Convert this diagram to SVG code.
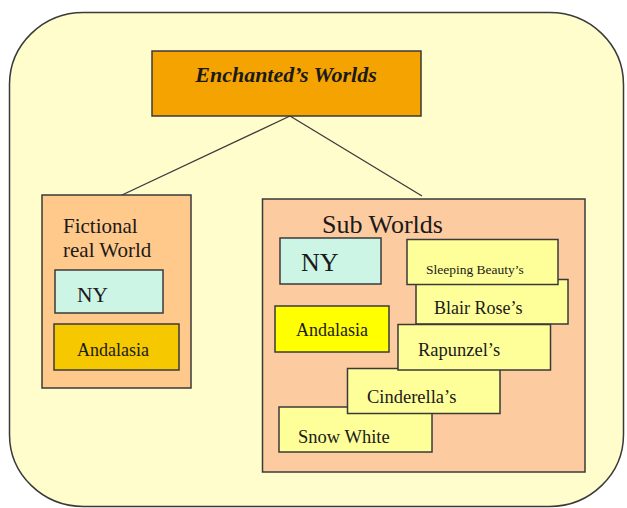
<svg xmlns="http://www.w3.org/2000/svg" width="627" height="508" viewBox="0 0 627 508">
<style>
.b{stroke:#3a3a3a;stroke-width:1.5}
text{font-family:"Liberation Serif","Times New Roman",serif;fill:#1a1a1a}
.w{fill:#FFFF99}
</style>
<rect x="0" y="0" width="627" height="508" fill="#ffffff"/>
<g id="frame"><rect x="9.5" y="12.5" width="614" height="494" rx="74" ry="72" fill="#FFFDCC" stroke="#3a3a3a" stroke-width="1.5"/></g>
<g id="connectors" stroke="#3a3a3a" stroke-width="1.3" fill="none">
<line x1="290" y1="116" x2="122" y2="195"/>
<line x1="290" y1="116" x2="422" y2="196"/>
</g>
<g id="title"><rect class="b" x="152" y="51" width="269" height="65" fill="#F4A300"/>
<text x="286" y="82" font-family="Liberation Serif, serif" font-size="22" font-weight="bold" font-style="italic" text-anchor="middle">Enchanted’s Worlds</text></g>
<g id="fictional"><rect class="b" x="42" y="195" width="149" height="193" fill="#FFC98C"/>
<text x="63" y="233" font-family="Liberation Serif, serif" font-size="21">Fictional</text><text x="63" y="257" font-family="Liberation Serif, serif" font-size="21">real World</text></g>
<g id="ny-left"><rect class="b" x="55" y="270" width="108" height="43" fill="#CCF5E6"/><text x="77" y="302" font-family="Liberation Serif, serif" font-size="21.5">NY</text></g>
<g id="andalasia-left"><rect class="b" x="54" y="324" width="125" height="46" fill="#F5C800"/><text x="77" y="356" font-family="Liberation Serif, serif" font-size="18">Andalasia</text></g>
<g id="subworlds"><rect class="b" x="262.5" y="199" width="322.5" height="273" fill="#FDCBA0"/>
<text x="322" y="233" font-family="Liberation Serif, serif" font-size="26">Sub Worlds</text></g>
<g id="ny-right"><rect class="b" x="280" y="238" width="101" height="46" fill="#CCF5E6"/><text x="301" y="271" font-family="Liberation Serif, serif" font-size="26">NY</text></g>
<g id="andalasia-right"><rect class="b" x="275" y="306" width="114" height="46" fill="#FFFF00"/><text x="296" y="336" font-family="Liberation Serif, serif" font-size="18">Andalasia</text></g>
<g id="blair"><rect class="b w" x="416" y="279.5" width="152" height="44.5"/><text x="434" y="314" font-family="Liberation Serif, serif" font-size="18">Blair Rose’s</text></g>
<g id="sleeping"><rect class="b w" x="407" y="239.5" width="151" height="45"/><text x="426" y="274" font-family="Liberation Serif, serif" font-size="13.5">Sleeping Beauty’s</text></g>
<g id="snow"><rect class="b w" x="279" y="407" width="153" height="45"/><text x="298" y="443" font-family="Liberation Serif, serif" font-size="18.5">Snow White</text></g>
<g id="cinderella"><rect class="b w" x="347.5" y="368.5" width="152.5" height="45"/><text x="367" y="403" font-family="Liberation Serif, serif" font-size="18.5">Cinderella’s</text></g>
<g id="rapunzel"><rect class="b w" x="398" y="324.5" width="152.5" height="45.5"/><text x="418" y="356" font-family="Liberation Serif, serif" font-size="18.5">Rapunzel’s</text></g>
</svg>
